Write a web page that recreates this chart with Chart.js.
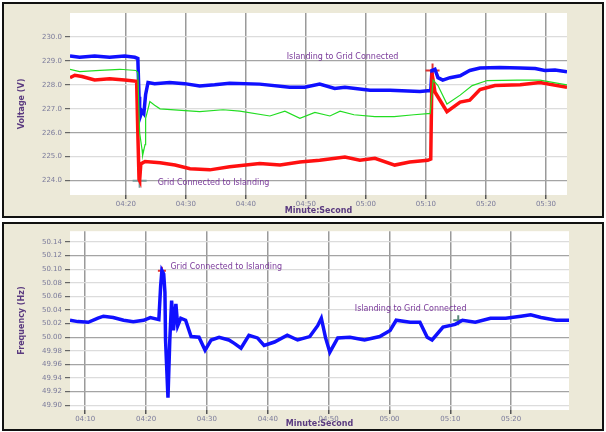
<!DOCTYPE html>
<html lang="en">
<head>
<meta charset="UTF-8">
<title>Voltage and Frequency - Islanding Test</title>
<script src="https://cdn.jsdelivr.net/npm/chart.js"></script>
<style>
    body { margin: 0; width: 606px; height: 432px; background: #fff; position: relative; overflow: hidden; }
    .panel { position: absolute; left: 2px; width: 598px; background: #ECE9D8; border: 2px solid #111; }
    #topPanel { top: 2px; height: 212px; }
    #bottomPanel { top: 222px; height: 205px; }
</style>
</head>
<body>
<div class="panel" id="topPanel"><canvas id="voltChart" width="598" height="212"></canvas></div>
<div class="panel" id="bottomPanel"><canvas id="freqChart" width="598" height="205"></canvas></div>

<script>
// time is seconds after 04:00
var blueTime  = [10.7, 12.3, 14.8, 17.3, 19.8, 21.5, 22.0, 22.2, 22.3, 22.7, 23.0, 23.3, 23.7, 24.8, 27.3, 29.8, 32.3, 34.8, 37.3, 42.3, 47.3, 49.8, 52.3, 54.8, 56.5, 60.7, 64.0, 69.0, 70.3, 70.8, 71.0, 71.5, 72.0, 72.8, 74.0, 75.7, 77.3, 79.0, 82.3, 85.7, 88.2, 89.8, 91.5, 93.5];
var blueVolt  = [229.2, 229.15, 229.2, 229.15, 229.2, 229.15, 229.1, 227.5, 226.6, 226.9, 226.8, 227.6, 228.1, 228.05, 228.1, 228.05, 227.95, 228.0, 228.07, 228.03, 227.9, 227.9, 228.03, 227.85, 227.9, 227.77, 227.77, 227.72, 227.75, 227.75, 228.6, 228.65, 228.3, 228.2, 228.3, 228.38, 228.6, 228.7, 228.72, 228.7, 228.68, 228.6, 228.62, 228.55];

var greenTime = [10.7, 12.3, 15.7, 19.0, 21.7, 22.0, 22.3, 22.7, 22.8, 23.2, 23.3, 23.7, 24.0, 24.8, 25.7, 32.3, 36.2, 39.0, 44.0, 46.5, 49.0, 51.5, 54.0, 55.7, 58.0, 61.5, 64.7, 68.0, 70.3, 70.7, 71.2, 72.0, 73.5, 75.7, 77.7, 80.2, 85.2, 89.0, 93.5];
var greenVolt = [228.65, 228.55, 228.6, 228.65, 228.6, 228.5, 226.0, 225.3, 225.05, 225.5, 226.6, 227.0, 227.3, 227.15, 227.0, 226.88, 226.96, 226.9, 226.7, 226.9, 226.6, 226.85, 226.7, 226.9, 226.75, 226.67, 226.67, 226.75, 226.8, 226.8, 228.2, 227.97, 227.2, 227.57, 227.97, 228.18, 228.2, 228.2, 228.0];

var redTime   = [10.7, 11.5, 12.7, 14.8, 17.3, 19.8, 21.8, 22.0, 22.2, 22.3, 22.5, 23.2, 25.7, 28.2, 30.7, 34.0, 37.3, 42.3, 45.7, 49.0, 52.3, 56.5, 59.0, 61.5, 64.8, 67.3, 70.3, 70.8, 71.0, 71.5, 73.5, 75.7, 77.3, 79.0, 81.5, 85.7, 89.0, 93.5];
var redVolt   = [228.3, 228.4, 228.35, 228.2, 228.25, 228.2, 228.15, 226.0, 224.05, 224.0, 224.7, 224.8, 224.75, 224.65, 224.5, 224.45, 224.58, 224.72, 224.65, 224.78, 224.85, 224.99, 224.85, 224.93, 224.65, 224.78, 224.85, 224.9, 228.5, 227.7, 226.88, 227.28, 227.36, 227.8, 227.97, 228.0, 228.1, 227.9];

var freqTime  = [7.5, 8.8, 10.5, 12.1, 13.0, 14.6, 16.3, 17.9, 19.6, 20.7, 22.1, 22.4, 22.6, 22.9, 23.1, 23.2, 23.6, 23.9, 24.2, 24.5, 24.9, 25.2, 25.7, 26.5, 27.4, 28.7, 29.7, 30.7, 32.0, 33.6, 34.5, 35.6, 36.9, 38.3, 39.4, 41.1, 43.2, 44.9, 46.9, 48.2, 48.8, 49.5, 50.2, 51.5, 53.5, 55.9, 58.4, 60.1, 61.1, 63.4, 65.0, 66.2, 67.0, 68.8, 70.8, 72.0, 74.1, 76.6, 79.1, 81.6, 83.2, 84.9, 87.4, 89.5];
var freqHz    = [50.025, 50.023, 50.022, 50.028, 50.031, 50.029, 50.025, 50.023, 50.025, 50.029, 50.026, 50.076, 50.098, 50.093, 50.066, 49.996, 49.911, 49.996, 50.054, 50.010, 50.049, 50.017, 50.028, 50.025, 50.001, 50.000, 49.981, 49.996, 50.000, 49.996, 49.991, 49.984, 50.003, 49.999, 49.988, 49.993, 50.003, 49.996, 50.001, 50.017, 50.028, 49.999, 49.978, 49.999, 50.000, 49.996, 50.001, 50.010, 50.025, 50.022, 50.022, 50.000, 49.996, 50.015, 50.019, 50.025, 50.022, 50.028, 50.028, 50.031, 50.033, 50.029, 50.025, 50.025];

var timeTicksTop = [20, 30, 40, 50, 60, 70, 80, 90];
var timeTicksBottom = [10, 20, 30, 40, 50, 60, 70, 80];
var voltTicks = [224, 225, 226, 227, 228, 229, 230];
var freqTicks = [49.90, 49.92, 49.94, 49.96, 49.98, 50.00, 50.02, 50.04, 50.06, 50.08, 50.10, 50.12, 50.14];

// event markers: [time, value]
var topIslandMark = [22.3, 224.0];
var topReconnectMark = [71.1, 228.6];
var bottomIslandMark = [22.6, 50.098];
var bottomReconnectMark = [71.3, 50.025];

var tickColor = "#7b7b9b";
var titleColor = "#5b3b80";
var noteColor = "#7a3a9a";

function pts(xs, ys) {
    return xs.map(function (x, i) { return { x: x, y: ys[i] }; });
}

function mmss(t) {
    var m = Math.floor(t / 60);
    var s = Math.round(t - m * 60);
    return "0" + (4 + m) + ":" + (s < 10 ? "0" + s : s);
}

var plotBg = {
    id: "plotBg",
    beforeDraw: function (chart) {
        var a = chart.chartArea, ctx = chart.ctx;
        ctx.save();
        ctx.fillStyle = "#fff";
        ctx.fillRect(a.left, a.top, a.right - a.left, a.bottom - a.top);
        ctx.restore();
    }
};

// text notes placed through the scales
function notesPlugin(notes) {
    return {
        id: "notes",
        afterDatasetsDraw: function (chart) {
            var ctx = chart.ctx, xs = chart.scales.x, ys = chart.scales.y;
            ctx.save();
            ctx.font = "8px 'DejaVu Sans'";
            ctx.fillStyle = noteColor;
            ctx.textBaseline = "middle";
            notes.forEach(function (n) {
                ctx.fillText(n.text, xs.getPixelForValue(n.x), ys.getPixelForValue(n.y));
            });
            ctx.restore();
        }
    };
}

function timeAxis(min, max, ticks, height) {
    return {
        type: "linear", min: min, max: max,
        afterBuildTicks: function (s) { s.ticks = ticks.map(function (v) { return { value: v }; }); },
        afterFit: function (s) { s.height = height; },
        ticks: { color: tickColor, font: { size: 7, family: "DejaVu Sans" }, padding: 1, maxRotation: 0,
                 callback: function (v) { return mmss(v); } },
        grid: { color: "#9a9a9a", lineWidth: 1.5, tickLength: 4, drawTicks: true, tickColor: "#555" },
        border: { display: false },
        title: { display: true, text: "Minute:Second", color: titleColor, padding: 0,
                 font: { size: 8, weight: "bold", family: "DejaVu Sans" } }
    };
}

function valueAxis(min, max, ticks, digits, title, darkSet) {
    return {
        min: min, max: max,
        afterBuildTicks: function (s) { s.ticks = ticks.map(function (v) { return { value: v }; }); },
        afterFit: function (s) { s.width = 66; },
        ticks: { color: tickColor, font: { size: 7, family: "DejaVu Sans" }, padding: 3,
                 callback: function (v) { return v.toFixed(digits); } },
        grid: {
            lineWidth: 1.2, tickLength: 5,
            color: function (c) {
                var v = c.tick ? c.tick.value.toFixed(digits) : "";
                return darkSet.indexOf(v) >= 0 ? "#a4a4a4" : "#dcdcdc";
            },
            tickColor: "#666"
        },
        border: { display: false },
        title: { display: true, text: title, color: titleColor, padding: { top: 13, bottom: 0 },
                 font: { size: 8, weight: "bold", family: "DejaVu Sans" } }
    };
}

new Chart(document.getElementById("voltChart"), {
    type: "scatter",
    data: {
        datasets: [
            { data: pts(greenTime, greenVolt), showLine: true, borderColor: "#22dd22", borderWidth: 1.2, pointRadius: 0 },
            { data: pts(redTime, redVolt), showLine: true, borderColor: "#ff1010", borderWidth: 3.5, pointRadius: 0 },
            { data: pts(blueTime, blueVolt), showLine: true, borderColor: "#1010ff", borderWidth: 3.5, pointRadius: 0 },
            { data: [{ x: topIslandMark[0], y: topIslandMark[1] }], pointStyle: "cross", pointRadius: 7,
              borderColor: "#7a9a9a", borderWidth: 2 },
            { data: [{ x: topReconnectMark[0], y: topReconnectMark[1] }], pointStyle: "cross", pointRadius: 7,
              borderColor: "#e03030", borderWidth: 2 }
        ]
    },
    options: {
        responsive: false, animation: false,
        layout: { padding: { top: 5, right: 35, left: 0, bottom: 0 } },
        plugins: { legend: { display: false }, tooltip: { enabled: false } },
        scales: {
            x: timeAxis(10.7, 93.5, timeTicksTop, 21),
            y: valueAxis(223.4, 231.0, voltTicks, 1, "Voltage (V)", ["229.0", "226.0", "224.0"])
        }
    },
    plugins: [plotBg, notesPlugin([
        { text: "Grid Connected to Islanding", x: 25.3, y: 223.9 },
        { text: "Islanding to Grid Connected", x: 46.8, y: 229.15 }
    ])]
});

new Chart(document.getElementById("freqChart"), {
    type: "scatter",
    data: {
        datasets: [
            { data: pts(freqTime, freqHz), showLine: true, borderColor: "#1010ff", borderWidth: 3.5, pointRadius: 0 },
            { data: [{ x: bottomIslandMark[0], y: bottomIslandMark[1] }], pointStyle: "cross", pointRadius: 4,
              borderColor: "#e03030", borderWidth: 2 },
            { data: [{ x: bottomReconnectMark[0], y: bottomReconnectMark[1] }], pointStyle: "cross", pointRadius: 5,
              borderColor: "#5a8a7a", borderWidth: 2 }
        ]
    },
    options: {
        responsive: false, animation: false,
        layout: { padding: { top: 6, right: 33, left: 0, bottom: 0 } },
        plugins: { legend: { display: false }, tooltip: { enabled: false } },
        scales: {
            x: timeAxis(7.5, 89.5, timeTicksBottom, 19),
            y: valueAxis(49.893, 50.156, freqTicks, 2, "Frequency (Hz)", ["50.12", "50.00", "49.96", "49.92"])
        }
    },
    plugins: [plotBg, notesPlugin([
        { text: "Grid Connected to Islanding", x: 24.0, y: 50.103 },
        { text: "Islanding to Grid Connected", x: 54.3, y: 50.042 }
    ])]
});
</script>
</body>
</html>
